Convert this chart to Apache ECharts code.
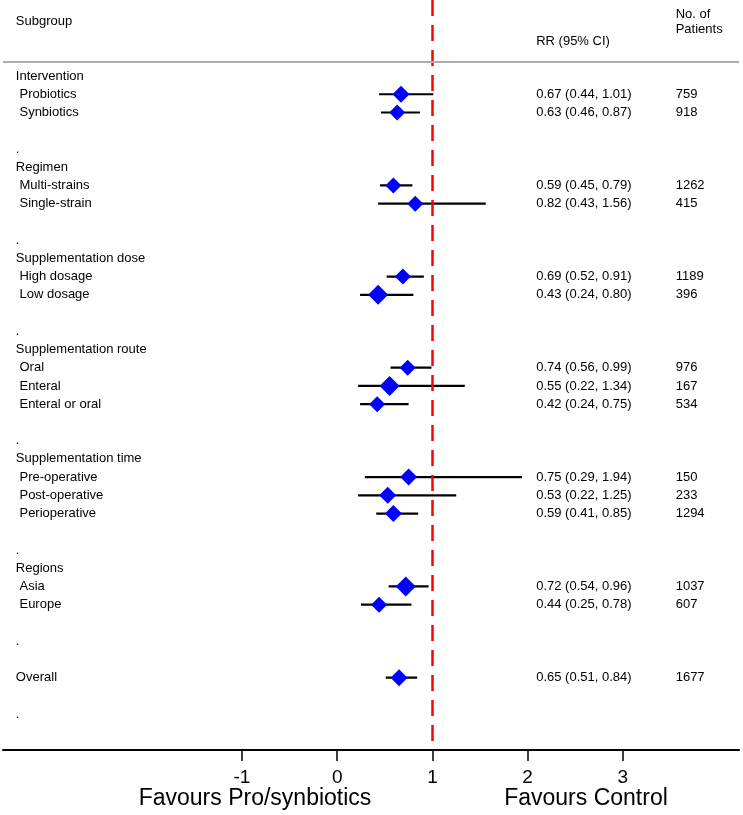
<!DOCTYPE html>
<html>
<head>
<meta charset="utf-8">
<script src="https://cdn.jsdelivr.net/npm/echarts@6/dist/echarts.min.js"></script>
<style>
  html, body { margin: 0; padding: 0; background: #fff; }
  #chart { width: 743px; height: 815px; }
</style>
</head>
<body>
<div id="chart"></div>
<script>
// --- Data (one entry per table row, top to bottom) ---
const labels = [
  'Intervention', ' Probiotics', ' Synbiotics', '', '.',
  'Regimen', ' Multi-strains', ' Single-strain', '', '.',
  'Supplementation dose', ' High dosage', ' Low dosage', '', '.',
  'Supplementation route', ' Oral', ' Enteral', ' Enteral or oral', '', '.',
  'Supplementation time', ' Pre-operative', ' Post-operative', ' Perioperative', '', '.',
  'Regions', ' Asia', ' Europe', '', '.',
  '', 'Overall', '', '.'
];
const rr = [
  null, 0.67, 0.63, null, null,
  null, 0.59, 0.82, null, null,
  null, 0.69, 0.43, null, null,
  null, 0.74, 0.55, 0.42, null, null,
  null, 0.75, 0.53, 0.59, null, null,
  null, 0.72, 0.44, null, null,
  null, 0.65, null, null
];
const lower = [
  null, 0.44, 0.46, null, null,
  null, 0.45, 0.43, null, null,
  null, 0.52, 0.24, null, null,
  null, 0.56, 0.22, 0.24, null, null,
  null, 0.29, 0.22, 0.41, null, null,
  null, 0.54, 0.25, null, null,
  null, 0.51, null, null
];
const upper = [
  null, 1.01, 0.87, null, null,
  null, 0.79, 1.56, null, null,
  null, 0.91, 0.80, null, null,
  null, 0.99, 1.34, 0.75, null, null,
  null, 1.94, 1.25, 0.85, null, null,
  null, 0.96, 0.78, null, null,
  null, 0.84, null, null
];
const patients = [
  null, 759, 918, null, null,
  null, 1262, 415, null, null,
  null, 1189, 396, null, null,
  null, 976, 167, 534, null, null,
  null, 150, 233, 1294, null, null,
  null, 1037, 607, null, null,
  null, 1677, null, null
];
const xTicks = [-1, 0, 1, 2, 3];

// --- Styling ---
const FONT = 'Arial, "Liberation Sans", sans-serif';
// marker widths as they appear in the figure (px)
const diamondSize = [
  0, 17, 16, 0, 0,
  0, 16, 16, 0, 0,
  0, 16, 20, 0, 0,
  0, 16, 20, 16, 0, 0,
  0, 17, 17, 17, 0, 0,
  0, 20, 16, 0, 0,
  0, 17, 0, 0
];
// x positions (axis units) of the text columns, y (row units) of the header
const COL_LABEL = -3.375;
const COL_RR = 2.09;
const COL_N = 3.555;
const HEAD_ROW = -2.98;

function textSeries(data) {
  return {
    type: 'scatter',
    symbolSize: 0.001,
    itemStyle: { color: 'rgba(0,0,0,0)', opacity: 1 },
    silent: true,
    z: 5,
    label: {
      show: true,
      position: 'inside',
      align: 'left',
      verticalAlign: 'middle',
      color: '#000',
      opacity: 1,
      fontFamily: FONT,
      fontSize: 13,
      lineHeight: 15,
      formatter: p => p.value[2],
    },
    data,
  };
}

const labelData = [[COL_LABEL, HEAD_ROW, 'Subgroup']];
const rrData = [[COL_RR, -1.92, 'RR (95% CI)']];
const nData = [[COL_N, HEAD_ROW, 'No. of\nPatients']];
const ciData = [];
const pointData = [];

labels.forEach((lab, i) => {
  if (lab) labelData.push([COL_LABEL, i, lab]);
  if (rr[i] !== null) {
    rrData.push([COL_RR, i, `${rr[i].toFixed(2)} (${lower[i].toFixed(2)}, ${upper[i].toFixed(2)})`]);
    nData.push([COL_N, i, String(patients[i])]);
    ciData.push([lower[i], upper[i], i]);
    pointData.push({ value: [rr[i], i], symbolSize: diamondSize[i] });
  }
});

const chart = echarts.init(document.getElementById('chart'), null, { renderer: 'canvas' });

chart.setOption({
  backgroundColor: '#fff',
  animation: false,
  textStyle: { fontFamily: FONT },
  grid: { left: 3, right: 4, top: 0, bottom: 65 },
  xAxis: {
    type: 'value',
    min: -3.51,
    max: 4.22,
    splitLine: { show: false },
    axisLine: { show: true, onZero: false, lineStyle: { color: '#000', width: 2 } },
    axisTick: { show: true, customValues: xTicks, length: 11, lineStyle: { color: '#000', width: 1.5 } },
    axisLabel: { customValues: xTicks, color: '#000', fontSize: 19, fontFamily: FONT, margin: 18 },
  },
  yAxis: {
    type: 'value',
    inverse: true,
    min: -4.17,
    max: 36.97,
    show: false,
  },
  series: [
    // reference lines sit underneath the confidence intervals
    {
      type: 'scatter',
      silent: true,
      z: 1,
      data: [],
      markLine: {
        silent: true,
        symbol: 'none',
        label: { show: false },
        data: [
          { xAxis: 1, lineStyle: { color: '#ff0000', width: 2.5, type: [16, 9] } },
          { yAxis: -0.79, lineStyle: { color: '#adadad', width: 2, type: 'solid' } },
        ],
      },
    },
    {
      type: 'custom',
      silent: true,
      z: 3,
      encode: { x: [0, 1], y: 2 },
      renderItem: (params, api) => {
        const a = api.coord([api.value(0), api.value(2)]);
        const b = api.coord([api.value(1), api.value(2)]);
        return {
          type: 'line',
          shape: { x1: a[0], y1: a[1], x2: b[0], y2: b[1] },
          style: { stroke: '#000', lineWidth: 2.2 },
        };
      },
      data: ciData,
    },
    {
      type: 'scatter',
      symbol: 'diamond',
      silent: true,
      z: 4,
      itemStyle: { color: '#0000ff', opacity: 1 },
      data: pointData,
    },
    textSeries(labelData),
    textSeries(rrData),
    textSeries(nData),
  ],
  graphic: [
    {
      type: 'text',
      x: 255, y: 799,
      style: { text: 'Favours Pro/synbiotics', font: '23px ' + FONT, fill: '#000', align: 'center', verticalAlign: 'middle' },
    },
    {
      type: 'text',
      x: 586, y: 799,
      style: { text: 'Favours Control', font: '23px ' + FONT, fill: '#000', align: 'center', verticalAlign: 'middle' },
    },
  ],
});

window.addEventListener('resize', () => chart.resize());
</script>
</body>
</html>
